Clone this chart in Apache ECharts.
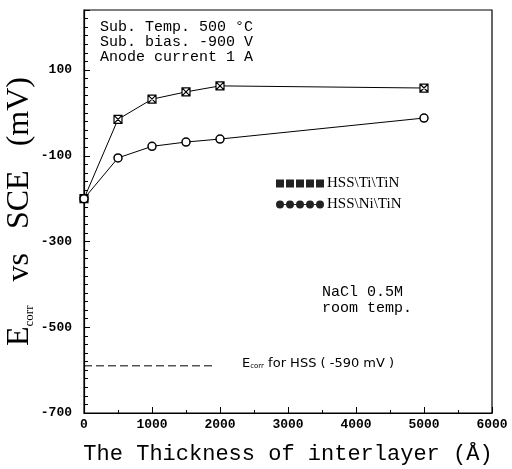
<!DOCTYPE html>
<html>
<head>
<meta charset="utf-8">
<script src="https://cdn.jsdelivr.net/npm/echarts@6/dist/echarts.min.js"></script>
<style>
  html, body { margin: 0; padding: 0; background: #fff; }
  #main { width: 512px; height: 469px; }
</style>
</head>
<body>
<div id="main"></div>
<script>
var thickness = [0, 500, 1000, 1500, 2000, 5000];
var tiTin = [-200, -15, 32, 49, 63, 58];
var niTin = [-200, -105, -78, -68, -61, -12];
var hssLine = [[0, -590], [1900, -590]];
var names = ['HSS\\Ti\\TiN', 'HSS\\Ni\\TiN'];

function pairs(xs, ys) {
    var out = [];
    for (var i = 0; i < xs.length; i++) out.push([xs[i], ys[i]]);
    return out;
}

var boxX = 'path://M0,0L10,0L10,10L0,10Z M0,0L10,10 M10,0L0,10';
// row of five markers for the legend
var rowSq = 'path://M0,0h8v8h-8z M10,0h8v8h-8z M20,0h8v8h-8z M30,0h8v8h-8z M40,0h8v8h-8z';
var rowCi = 'path://M0,4a4,4 0 1,0 8,0a4,4 0 1,0 -8,0z M8,3.5h2v1h-2z M10,4a4,4 0 1,0 8,0a4,4 0 1,0 -8,0z M18,3.5h2v1h-2z M20,4a4,4 0 1,0 8,0a4,4 0 1,0 -8,0z M28,3.5h2v1h-2z M30,4a4,4 0 1,0 8,0a4,4 0 1,0 -8,0z M38,3.5h2v1h-2z M40,4a4,4 0 1,0 8,0a4,4 0 1,0 -8,0z';

var mono = '"Liberation Mono", "DejaVu Sans Mono", monospace';
var serif = '"Liberation Serif", "DejaVu Serif", serif';

var myChart = echarts.init(document.getElementById('main'));
var option = {
    animation: false,
    backgroundColor: '#fff',
    grid: {
        left: 84, right: 20, top: 10, bottom: 56,
        outerBoundsMode: 'none',
        show: true, borderColor: '#000', borderWidth: 1.2
    },
    legend: {
        orient: 'vertical',
        left: 271, top: 171,
        itemWidth: 48, itemHeight: 8, itemGap: 6,
        textStyle: { fontFamily: serif, fontSize: 15, color: '#000', padding: [0, 0, 0, -2] },
        data: [
            { name: names[0], icon: rowSq, itemStyle: { color: '#222', borderWidth: 0 } },
            { name: names[1], icon: rowCi, itemStyle: { color: '#222', borderWidth: 0 } }
        ]
    },
    xAxis: {
        type: 'value',
        min: 0, max: 6000, interval: 1000,
        name: 'The Thickness of interlayer (Å)',
        nameLocation: 'middle', nameGap: 30,
        nameTextStyle: { fontFamily: mono, fontSize: 22, color: '#000' },
        axisLine: { onZero: false, lineStyle: { color: '#000', width: 1.2 } },
        axisTick: { inside: true, length: 6, lineStyle: { color: '#000' } },
        minorTick: { show: true, splitNumber: 2, length: 3, lineStyle: { color: '#000' } },
        axisLabel: {
            fontFamily: mono, fontWeight: 'bold', fontSize: 13, color: '#000', margin: 5,
            formatter: function (v) { return String(v); }
        },
        splitLine: { show: false }
    },
    yAxis: {
        type: 'value',
        min: -700, max: 240, interval: 200,
        name: '{e|E}{sub|corr}{t|   vs   SCE   (mV)}',
        nameLocation: 'middle', nameGap: 48, nameMoveOverlap: false,
        nameTextStyle: {
            color: '#000',
            rich: {
                e: { fontFamily: serif, fontSize: 32, color: '#000' },
                sub: { fontFamily: serif, fontSize: 13, color: '#000', verticalAlign: 'bottom', padding: [14, 0, 0, 0] },
                t: { fontFamily: serif, fontSize: 32, color: '#000' }
            }
        },
        axisLine: { onZero: false, lineStyle: { color: '#000', width: 1.2 } },
        axisTick: { inside: true, length: 6, lineStyle: { color: '#000' } },
        minorTick: { show: true, splitNumber: 10, length: 4, lineStyle: { color: '#000' } },
        axisLabel: {
            fontFamily: mono, fontWeight: 'bold', fontSize: 13, color: '#000', margin: 12, showMaxLabel: false,
            formatter: function (v) { return String(v); }
        },
        splitLine: { show: false }
    },
    series: [
        {
            name: names[0], type: 'line',
            data: pairs(thickness, tiTin),
            symbol: boxX, symbolSize: 8,
            lineStyle: { color: '#000', width: 1 },
            itemStyle: { color: '#fff', borderColor: '#000', borderWidth: 1.2 }
        },
        {
            name: names[1], type: 'line',
            data: pairs(thickness, niTin),
            symbol: 'circle', symbolSize: 8,
            lineStyle: { color: '#000', width: 1 },
            itemStyle: { color: '#fff', borderColor: '#000', borderWidth: 1.5 }
        },
        {
            name: 'HSS', type: 'line',
            data: hssLine, symbol: 'none',
            lineStyle: { color: '#000', width: 1, type: [8, 4] }
        }
    ],
    graphic: [
        {
            type: 'text', left: 100, top: 20,
            style: {
                text: 'Sub. Temp. 500 °C\nSub. bias. -900 V\nAnode current 1 A',
                font: '15px ' + mono, lineHeight: 15, fill: '#000'
            }
        },
        {
            type: 'text', left: 322, top: 284,
            style: {
                text: 'NaCl 0.5M\nroom temp.',
                font: '15px ' + mono, lineHeight: 16, fill: '#000'
            }
        },
        {
            type: 'text', left: 242, top: 357,
            style: {
                text: '{e|E}{s|corr}{t| for HSS ( -590 mV )}',
                rich: {
                    e: { fontFamily: '"DejaVu Sans", sans-serif', fontSize: 13, fill: '#000' },
                    s: { fontFamily: '"DejaVu Sans", sans-serif', fontSize: 7, fill: '#000', verticalAlign: 'bottom', padding: [4, 0, 0, 0] },
                    t: { fontFamily: '"DejaVu Sans", sans-serif', fontSize: 13, fill: '#000' }
                }
            }
        }
    ]
};
myChart.setOption(option);
</script>
</body>
</html>
